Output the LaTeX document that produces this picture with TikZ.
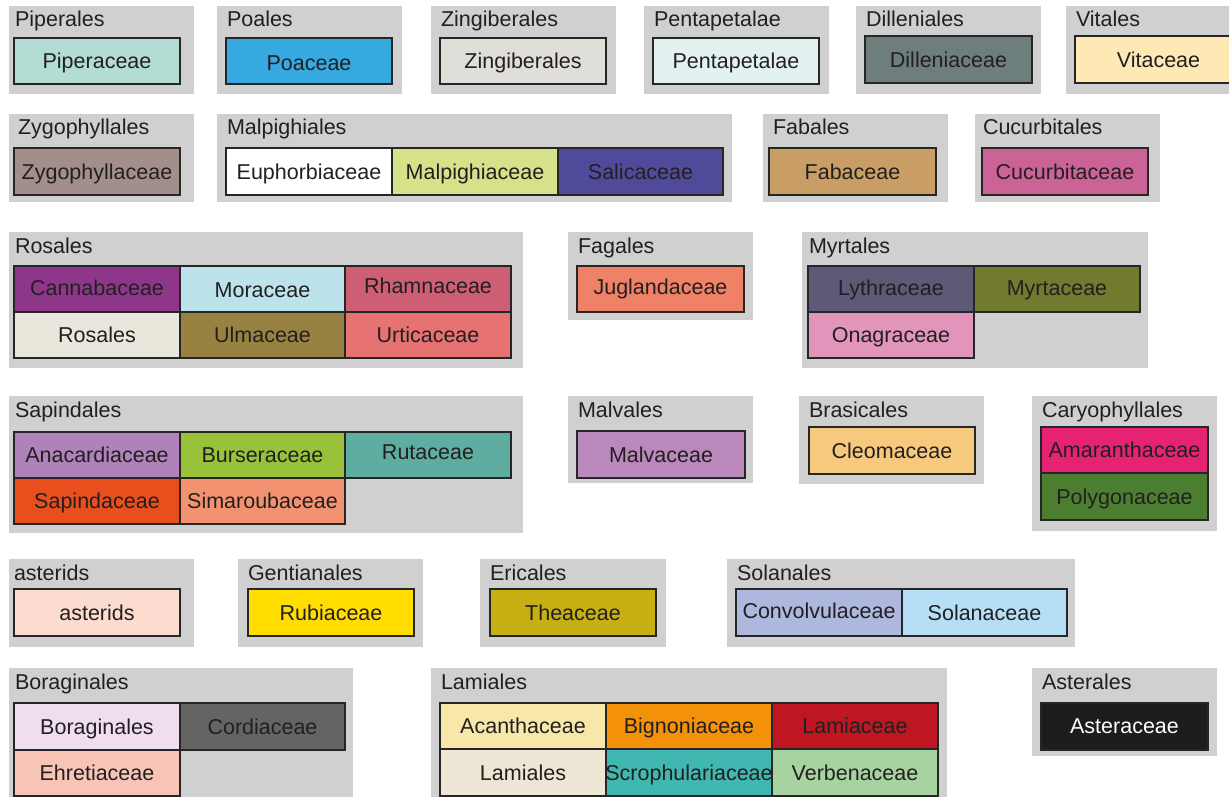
\documentclass[tikz,border=0pt]{standalone}
\usepackage{fontspec}
\setmainfont{Liberation Sans}

% panel and ink colours
\definecolor{grpgray}{HTML}{D0D0D0}
\definecolor{ink}{HTML}{231F20}
\definecolor{edge}{HTML}{262626}
% family colours
\definecolor{cPiper}{HTML}{B2DCD4}
\definecolor{cPoa}{HTML}{36A9E1}
\definecolor{cZing}{HTML}{DFDED9}
\definecolor{cPenta}{HTML}{E3F2F1}
\definecolor{cDill}{HTML}{6E7E7C}
\definecolor{cVit}{HTML}{FEE8B4}
\definecolor{cZygo}{HTML}{A38F89}
\definecolor{cEuph}{HTML}{FFFFFF}
\definecolor{cMalp}{HTML}{D6E18A}
\definecolor{cSali}{HTML}{4F4A99}
\definecolor{cFab}{HTML}{C89D66}
\definecolor{cCucu}{HTML}{CC6396}
\definecolor{cCann}{HTML}{8E378A}
\definecolor{cMora}{HTML}{BCE2EB}
\definecolor{cRham}{HTML}{CE5E73}
\definecolor{cRosa}{HTML}{E9E7DC}
\definecolor{cUlma}{HTML}{978241}
\definecolor{cUrti}{HTML}{E77272}
\definecolor{cJugl}{HTML}{EF8266}
\definecolor{cLyth}{HTML}{5C5A76}
\definecolor{cMyrt}{HTML}{717A2F}
\definecolor{cOnag}{HTML}{E195BA}
\definecolor{cAnac}{HTML}{AF82BA}
\definecolor{cBurs}{HTML}{99C23A}
\definecolor{cRuta}{HTML}{5DAEA0}
\definecolor{cSapi}{HTML}{E84F1C}
\definecolor{cSima}{HTML}{F29270}
\definecolor{cMalv}{HTML}{BA88BB}
\definecolor{cCleo}{HTML}{F7C97E}
\definecolor{cAmar}{HTML}{E52372}
\definecolor{cPoly}{HTML}{4B7E31}
\definecolor{cAste}{HTML}{FCDCCF}
\definecolor{cRubi}{HTML}{FFDD00}
\definecolor{cThea}{HTML}{C5AF12}
\definecolor{cConv}{HTML}{AEB8DF}
\definecolor{cSola}{HTML}{B6DFF6}
\definecolor{cBora}{HTML}{EEDEEE}
\definecolor{cCord}{HTML}{646463}
\definecolor{cEhre}{HTML}{F8C4B5}
\definecolor{cAcan}{HTML}{F7E7A8}
\definecolor{cBign}{HTML}{F39109}
\definecolor{cLamc}{HTML}{BE1722}
\definecolor{cLams}{HTML}{EEE6D4}
\definecolor{cScro}{HTML}{40B7B0}
\definecolor{cVerb}{HTML}{A7D3A0}
\definecolor{cAstc}{HTML}{1D1D1B}

% \Grp[label indent]{name}{x1}{y1}{x2}{y2}{order label}: grey panel with its heading
\newcommand\Grp[6][10]{%
  \node[grpbg, anchor=north west, minimum width=#5-#3, minimum height=#6-#4] (#2) at (#3,#4) {};
  \node[grplabel, anchor=base west] (#2-l) at (#3+#1,#4+21) {\GrpName};}
\newcommand\GrpName{}
\newcommand\Order[7][10]{\renewcommand\GrpName{#7}\Grp[#1]{#2}{#3}{#4}{#5}{#6}{}}
% \Cell[dy]{name}{x1}{y1}{x2}{y2}{fill}{family}: framed family box
\newcommand\Cell[8][0]{%
  \node[cellbox, fill=#7, anchor=north west, minimum width=#5-#3, minimum height=#6-#4] (#2) at (#3,#4) {};
  \node[celltext, yshift={-(7.7+(#1))*1pt}] (#2-t) at (#2.center) {#8};}

\begin{document}
\begin{tikzpicture}[x=1pt,y=-1pt,
  grpbg/.style={fill=grpgray, draw=none, inner sep=0pt, outer sep=0pt},
  grplabel/.style={inner sep=0pt, outer sep=0pt, text=ink, font=\fontsize{21.5}{25}\selectfont},
  cellbox/.style={draw=edge, line width=1.4pt, inner sep=0pt, outer sep=0pt},
  celltext/.style={inner sep=0pt, outer sep=0pt, text=ink, anchor=base, font=\fontsize{21.5}{25}\selectfont}]
\useasboundingbox (0,0) rectangle (1229,797);
\clip (0,0) rectangle (1229,797);

% ---- row 1
\Order[6]{piperales}{9}{6}{194}{94}{Piperales}
\Cell{piperaceae}{14}{38}{180}{84}{cPiper}{Piperaceae}
\Order{poales}{217}{6}{402}{94}{Poales}
\Cell[1.5]{poaceae}{226}{38}{392}{84}{cPoa}{Poaceae}
\Order{zingiberales}{431}{6}{616}{94}{Zingiberales}
\Cell{zingiberales-f}{440}{38}{606}{84}{cZing}{Zingiberales}
\Order{pentapetalae}{644}{6}{829}{94}{Pentapetalae}
\Cell{pentapetalae-f}{653}{38}{819}{84}{cPenta}{Pentapetalae}
\Order{dilleniales}{856}{6}{1041}{94}{Dilleniales}
\Cell{dilleniaceae}{865}{36}{1032}{83}{cDill}{Dilleniaceae}
\Order{vitales}{1066}{6}{1251}{94}{Vitales}
\Cell{vitaceae}{1075}{36}{1242}{83}{cVit}{Vitaceae}

% ---- row 2
\Order[9]{zygophyllales}{9}{114}{194}{202}{Zygophyllales}
\Cell{zygophyllaceae}{14}{148}{180}{195}{cZygo}{Zygophyllaceae}
\Order{malpighiales}{217}{114}{732}{202}{Malpighiales}
\Cell{euphorbiaceae}{226}{148}{392}{195}{cEuph}{Euphorbiaceae}
\Cell{malpighiaceae}{392}{148}{558}{195}{cMalp}{Malpighiaceae}
\Cell{salicaceae}{558}{148}{723}{195}{cSali}{Salicaceae}
\Order{fabales}{763}{114}{948}{202}{Fabales}
\Cell{fabaceae}{769}{148}{936}{195}{cFab}{Fabaceae}
\Order[8]{cucurbitales}{975}{114}{1160}{202}{Cucurbitales}
\Cell{cucurbitaceae}{982}{148}{1148}{195}{cCucu}{Cucurbitaceae}

% ---- row 3
\Order[6]{rosales}{9}{232}{523}{368}{Rosales}
\Cell[-1.5]{cannabaceae}{14}{266}{180}{312}{cCann}{Cannabaceae}
\Cell[1]{moraceae}{180}{266}{345}{312}{cMora}{Moraceae}
\Cell[-3]{rhamnaceae}{345}{266}{511}{312}{cRham}{Rhamnaceae}
\Cell{rosales-f}{14}{312}{180}{358}{cRosa}{Rosales}
\Cell{ulmaceae}{180}{312}{345}{358}{cUlma}{Ulmaceae}
\Cell{urticaceae}{345}{312}{511}{358}{cUrti}{Urticaceae}
\Order{fagales}{568}{232}{753}{320}{Fagales}
\Cell[-2.5]{juglandaceae}{577}{266}{744}{312}{cJugl}{Juglandaceae}
\Order[7]{myrtales}{802}{232}{1148}{368}{Myrtales}
\Cell[-1.5]{lythraceae}{808}{266}{974}{312}{cLyth}{Lythraceae}
\Cell[-1.5]{myrtaceae}{974}{266}{1140}{312}{cMyrt}{Myrtaceae}
\Cell{onagraceae}{808}{312}{974}{358}{cOnag}{Onagraceae}

% ---- row 4
\Order[6]{sapindales}{9}{396}{523}{533}{Sapindales}
\Cell{anacardiaceae}{14}{432}{180}{478}{cAnac}{Anacardiaceae}
\Cell{burseraceae}{180}{432}{345}{478}{cBurs}{Burseraceae}
\Cell[-3]{rutaceae}{345}{432}{511}{478}{cRuta}{Rutaceae}
\Cell{sapindaceae}{14}{478}{180}{524}{cSapi}{Sapindaceae}
\Cell{simaroubaceae}{180}{478}{345}{524}{cSima}{Simaroubaceae}
\Order{malvales}{568}{396}{753}{483}{Malvales}
\Cell{malvaceae}{577}{431}{745}{478}{cMalv}{Malvaceae}
\Order{brasicales}{799}{396}{984}{484}{Brasicales}
\Cell{cleomaceae}{809}{427}{975}{474}{cCleo}{Cleomaceae}
\Order{caryophyllales}{1032}{396}{1217}{531}{Caryophyllales}
\Cell{amaranthaceae}{1041}{427}{1208}{473}{cAmar}{Amaranthaceae}
\Cell{polygonaceae}{1041}{473}{1208}{520}{cPoly}{Polygonaceae}

% ---- row 5
\Order[5]{asterids}{9}{559}{194}{647}{asterids}
\Cell{asterids-f}{14}{589}{180}{636}{cAste}{asterids}
\Order{gentianales}{238}{559}{423}{647}{Gentianales}
\Cell{rubiaceae}{248}{589}{414}{636}{cRubi}{Rubiaceae}
\Order{ericales}{480}{559}{666}{647}{Ericales}
\Cell{theaceae}{490}{589}{656}{636}{cThea}{Theaceae}
\Order{solanales}{727}{559}{1075}{647}{Solanales}
\Cell[-1.5]{convolvulaceae}{736}{589}{902}{636}{cConv}{Convolvulaceae}
\Cell{solanaceae}{902}{589}{1067}{636}{cSola}{Solanaceae}

% ---- row 6
\Order[6]{boraginales}{9}{668}{353}{806}{Boraginales}
\Cell{boraginales-f}{14}{703}{180}{750}{cBora}{Boraginales}
\Cell{cordiaceae}{180}{703}{345}{750}{cCord}{Cordiaceae}
\Cell{ehretiaceae}{14}{750}{180}{796}{cEhre}{Ehretiaceae}
\Order{lamiales}{431}{668}{947}{806}{Lamiales}
\Cell{acanthaceae}{440}{703}{606}{749}{cAcan}{Acanthaceae}
\Cell{bignoniaceae}{606}{703}{772}{749}{cBign}{Bignoniaceae}
\Cell{lamiaceae}{772}{703}{938}{749}{cLamc}{Lamiaceae}
\Cell{lamiales-f}{440}{749}{606}{796}{cLams}{Lamiales}
\Cell{scrophulariaceae}{606}{749}{772}{796}{cScro}{Scrophulariaceae}
\Cell{verbenaceae}{772}{749}{938}{796}{cVerb}{Verbenaceae}
\Order{asterales}{1032}{668}{1217}{756}{Asterales}
\node[cellbox, fill=cAstc, anchor=north west, minimum width=167, minimum height=47] (asteraceae) at (1041,703) {};
\node[celltext, text=white, yshift=-6.7pt] (asteraceae-t) at (asteraceae.center) {Asteraceae};
\end{tikzpicture}
\end{document}
